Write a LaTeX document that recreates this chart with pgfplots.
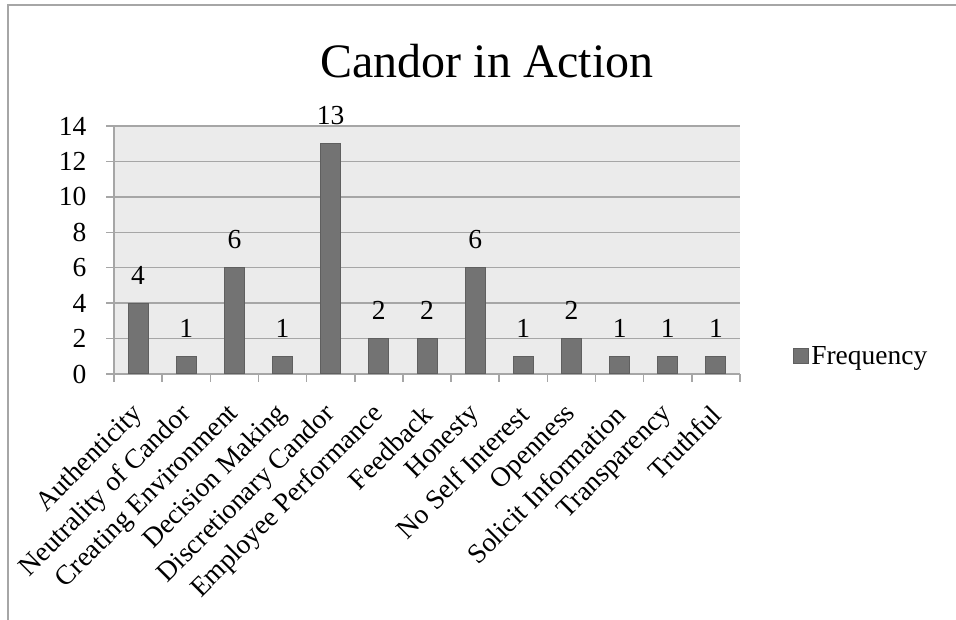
\documentclass[border=0pt]{standalone}
\usepackage{pgfplots}
\pgfplotsset{compat=1.18}
\usepackage{fontspec}
\setmainfont{Liberation Serif}
\definecolor{plotbg}{HTML}{EBEBEB}
\definecolor{gridc}{HTML}{A6A6A6}
\definecolor{barfill}{HTML}{737373}
\definecolor{barline}{HTML}{5F5F5F}
\definecolor{framec}{HTML}{A6A6A6}
\begin{document}
\begin{tikzpicture}[x=1bp,y=1bp]
\useasboundingbox (0,0) rectangle (956,620);
\draw[framec, line width=1.5bp] (8,0) -- (8,615) -- (956,615);
\node[anchor=base, font=\fontsize{48bp}{48bp}\selectfont] at (487,542) {Candor in Action};
\begin{axis}[
  at={(114bp,246bp)}, anchor=south west,
  scale only axis, width=626bp, height=248bp,
  xmin=-0.5, xmax=12.5, ymin=0, ymax=14,
  ytick={0,2,...,14},
  xtick={-0.5,0.5,...,12.5},
  x tick label as interval,
  xticklabels={Authenticity,Neutrality of Candor,Creating Environment,Decision Making,Discretionary Candor,Employee Performance,Feedback,Honesty,No Self Interest,Openness,Solicit Information,Transparency,Truthful},
  axis background/.style={fill=plotbg},
  ymajorgrids, grid style={gridc, line width=1.5bp},
  axis lines*=left,
  axis line style={-, draw=gridc, line width=1.5bp},
  tick align=outside,
  tick style={draw=gridc, line width=1.5bp},
  major tick length=8bp,
  /pgf/number format/assume math mode=true,
  tick label style={font=\fontsize{27.5bp}{27.5bp}\selectfont},
  xticklabel style={xshift=3bp, yshift=-26bp, rotate=45, anchor=east},
  yticklabel style={xshift=-16bp},
  ybar, bar width=20bp, bar shift=0pt,
  nodes near coords,
  every node near coord/.append style={anchor=base, yshift=19bp, font=\fontsize{27.5bp}{27.5bp}\selectfont, text=black},
  legend style={at={(1.08,0.073)}, anchor=west, draw=none, fill=none, font=\fontsize{27.5bp}{27.5bp}\selectfont},
  legend image code/.code={\draw[fill=barfill, draw=barline, line width=1bp] (0bp,-7.5bp) rectangle (15bp,7.5bp);},
]
\addplot[fill=barfill, draw=barline, line width=1bp] coordinates {
  (0,4) (1,1) (2,6) (3,1) (4,13) (5,2) (6,2) (7,6) (8,1) (9,2) (10,1) (11,1) (12,1)
};
\addlegendentry{Frequency}
\end{axis}
\end{tikzpicture}
\end{document}
